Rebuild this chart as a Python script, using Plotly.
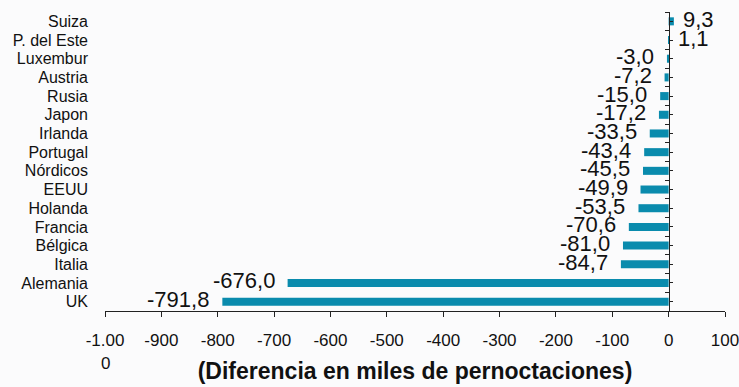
import plotly.graph_objects as go

# Origin markets, top to bottom as displayed
mercados = ["Suiza", "P. del Este", "Luxembur", "Austria", "Rusia", "Japon", "Irlanda",
            "Portugal", "Nórdicos", "EEUU", "Holanda", "Francia", "Bélgica", "Italia",
            "Alemania", "UK"]
# Difference in overnight stays (thousands)
diferencia = [9.3, 1.1, -3.0, -7.2, -15.0, -17.2, -33.5, -43.4, -45.5, -49.9, -53.5,
              -70.6, -81.0, -84.7, -676.0, -791.8]

tick_vals = [-1000, -900, -800, -700, -600, -500, -400, -300, -200, -100, 0, 100]
tick_text = ["-1.00", "-900", "-800", "-700", "-600", "-500", "-400", "-300",
             "-200", "-100", "0", "100"]
# the first tick label wraps onto a second line
tick_wrap = {-1000: "0"}

x_min, x_max = -1000, 100
BAR_COLOR = "#0A8BAD"
FONT = "Liberation Sans, Arial, sans-serif"
INK = "#111111"
AXIS = "#222222"

fig = go.Figure()
fig.add_trace(go.Bar(
    x=diferencia, y=mercados, orientation="h",
    marker=dict(color=BAR_COLOR, line=dict(width=0)),
    hoverinfo="skip", showlegend=False,
))
# invisible companion traces so the zero-crossing category axes have their categories
for ax in ("y2", "y3"):
    fig.add_trace(go.Scatter(
        x=[0] * len(mercados), y=mercados, yaxis=ax, mode="markers",
        marker=dict(opacity=0), hoverinfo="skip", showlegend=False,
    ))

def fmt(v):
    return f"{v:.1f}".replace(".", ",")

annotations = []
for name, v in zip(mercados, diferencia):
    annotations.append(dict(
        x=v, y=name, xref="x", yref="y", text=fmt(v), showarrow=False,
        xanchor="left" if v >= 0 else "right",
        xshift=7 if v >= 0 else -11, yshift=2,
        font=dict(family=FONT, size=22, color=INK),
    ))
for xv, txt in tick_wrap.items():
    annotations.append(dict(
        x=xv, y=0, xref="x", yref="paper", text=txt, showarrow=False,
        xanchor="center", yanchor="middle", yshift=-52,
        font=dict(family=FONT, size=17, color=INK),
    ))

dom = [0.0, 1.0]
zero_pos = dom[0] + (0 - x_min) / (x_max - x_min) * (dom[1] - dom[0])
cat_range = [-0.5, len(mercados) - 0.5]

fig.update_layout(
    width=739, height=387,
    margin=dict(l=105, r=14, t=12, b=76),
    paper_bgcolor="#fbfbfc", plot_bgcolor="rgba(0,0,0,0)",
    bargap=0.57,
    annotations=annotations,
    xaxis=dict(
        range=[x_min, x_max], domain=dom, automargin=False,
        tickvals=tick_vals, ticktext=tick_text, ticklabeloverflow="allow",
        showgrid=False, zeroline=False,
        showline=True, linecolor=AXIS, linewidth=1,
        ticks="outside", ticklen=5, tickcolor=AXIS,
        ticklabelstandoff=9,
        tickfont=dict(family=FONT, size=17, color=INK),
        title=dict(text="<b>(Diferencia en miles de pernoctaciones)</b>",
                   font=dict(family=FONT, size=23, color=INK), standoff=13),
    ),
    yaxis=dict(
        type="category", categoryorder="array", categoryarray=mercados[::-1],
        tickmode="array", tickvals=mercados, ticktext=mercados,
        autorange=False, range=cat_range, automargin=False,
        showgrid=False, zeroline=False, showline=False, ticks="",
        ticklabelstandoff=16, ticklabeloverflow="allow",
        tickfont=dict(family=FONT, size=16, color=INK),
    ),
    # axis line through zero: boundary ticks pointing left
    yaxis2=dict(
        type="category", categoryorder="array", categoryarray=mercados[::-1],
        overlaying="y", anchor="free", position=zero_pos, side="left",
        tickmode="linear", dtick=1,
        autorange=False, range=cat_range, automargin=False,
        showgrid=False, zeroline=False, showticklabels=False,
        showline=True, linecolor=AXIS, linewidth=1,
        ticks="outside", tickson="boundaries", ticklen=4, tickcolor=AXIS,
    ),
    # short ticks at each bar centre pointing right
    yaxis3=dict(
        type="category", categoryorder="array", categoryarray=mercados[::-1],
        overlaying="y", anchor="free", position=zero_pos, side="right",
        tickmode="linear", dtick=1,
        autorange=False, range=cat_range, automargin=False,
        showgrid=False, zeroline=False, showticklabels=False, showline=False,
        ticks="outside", tickson="labels", ticklen=3, tickcolor=AXIS,
    ),
)

fig.write_html("out.html")
